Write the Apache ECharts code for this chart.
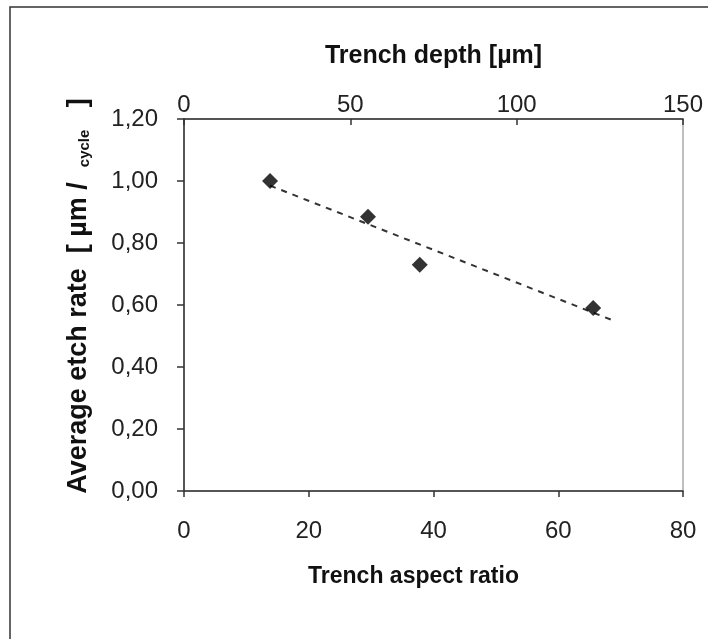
<!DOCTYPE html>
<html>
<head>
<meta charset="utf-8">
<script src="https://cdn.jsdelivr.net/npm/echarts@6/dist/echarts.min.js"></script>
<style>
  html, body { margin: 0; padding: 0; background: #fff; }
  #chart { width: 708px; height: 639px; }
</style>
</head>
<body>
<div id="chart"></div>
<script>
// measured points (aspect ratio, etch rate)
var aspectRatio = [13.8, 29.5, 37.8, 65.6];
var etchRate = [1.00, 0.885, 0.73, 0.59];
// linear trend line ends
var trendX = [13.8, 68.8];
var trendY = [0.985, 0.55];

var bottomTicks = [0, 20, 40, 60, 80];
var topTicks = [0, 50, 100, 150];
var yTicks = [0, 0.2, 0.4, 0.6, 0.8, 1.0, 1.2];

var font = 'Liberation Sans, Arial, sans-serif';
var textCol = '#222';
var titleCol = '#111';

var chart = echarts.init(document.getElementById('chart'));

var points = aspectRatio.map(function (x, i) { return [x, etchRate[i]]; });
var trend = trendX.map(function (x, i) { return [x, trendY[i]]; });

chart.setOption({
	animation: false,
	backgroundColor: '#fff',
	graphic: [{
		type: 'rect',
		shape: { x: 10, y: 7, width: 730, height: 680 },
		style: { fill: 'none', stroke: '#333', lineWidth: 1.5 },
		silent: true
	}],
	grid: {
		left: 184,
		top: 119,
		width: 499,
		height: 372,
		show: true,
		borderColor: '#aaa',
		borderWidth: 1.5
	},
	xAxis: [{
		type: 'value',
		position: 'bottom',
		min: bottomTicks[0],
		max: bottomTicks[bottomTicks.length - 1],
		interval: 20,
		name: 'Trench aspect ratio',
		nameLocation: 'middle',
		nameGap: 74,
		nameTextStyle: { fontFamily: font, fontSize: 23, fontWeight: 'bold', color: titleCol, padding: [0, 40, 0, 0] },
		axisLine: { show: true, lineStyle: { color: '#333', width: 1.5 } },
		axisTick: { show: true, length: 6, lineStyle: { color: '#333', width: 1.5 } },
		axisLabel: { margin: 28, fontFamily: font, fontSize: 24, color: textCol },
		splitLine: { show: false }
	}, {
		type: 'value',
		position: 'top',
		min: topTicks[0],
		max: topTicks[topTicks.length - 1],
		interval: 50,
		name: 'Trench depth [µm]',
		nameLocation: 'middle',
		nameGap: 50,
		nameTextStyle: { fontFamily: font, fontSize: 25, fontWeight: 'bold', color: titleCol },
		axisLine: { show: true, lineStyle: { color: '#333', width: 1.5 } },
		axisTick: { show: true, inside: true, length: 6, lineStyle: { color: '#333', width: 1.5 } },
		axisLabel: { margin: 2, fontFamily: font, fontSize: 24, color: textCol },
		splitLine: { show: false }
	}],
	yAxis: [{
		type: 'value',
		min: yTicks[0],
		max: yTicks[yTicks.length - 1],
		interval: 0.2,
		name: '{a|Average etch rate  [ µm /  }{b|cycle}{a|   ]}',
		nameLocation: 'middle',
		nameGap: 92,
		nameRotate: 90,
		nameTextStyle: {
			fontFamily: font,
			fontWeight: 'bold',
			color: titleCol,
			padding: [0, 0, 0, 18],
			rich: {
				a: { fontFamily: font, fontSize: 27, fontWeight: 'bold', color: titleCol, verticalAlign: 'bottom' },
				b: { fontFamily: font, fontSize: 15, fontWeight: 'bold', color: titleCol, verticalAlign: 'bottom' }
			}
		},
		axisLine: { show: true, lineStyle: { color: '#333', width: 1.5 } },
		axisTick: { show: true, length: 7, lineStyle: { color: '#333', width: 1.5 } },
		axisLabel: {
			margin: 26,
			fontFamily: font,
			fontSize: 24,
			color: textCol,
			formatter: function (v) { return v.toFixed(2).replace('.', ','); }
		},
		splitLine: { show: false }
	}],
	series: [{
		type: 'line',
		xAxisIndex: 0,
		data: trend,
		symbol: 'none',
		lineStyle: { color: '#333', width: 2, type: [6, 6] },
		z: 2
	}, {
		type: 'scatter',
		xAxisIndex: 0,
		data: points,
		symbol: 'diamond',
		symbolSize: 16,
		itemStyle: { color: '#000' },
		z: 3
	}]
});
</script>
</body>
</html>
